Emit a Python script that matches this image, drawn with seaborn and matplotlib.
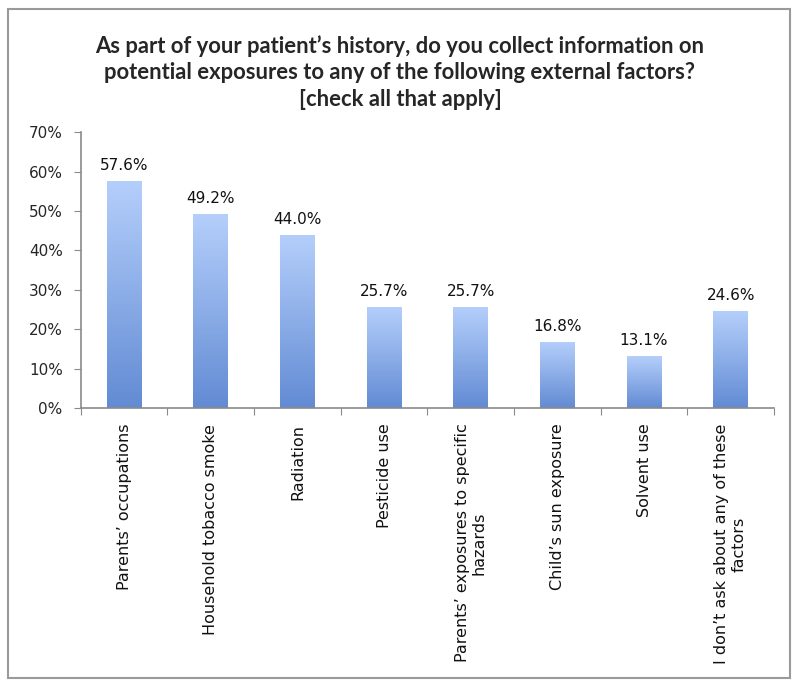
import numpy as np
import pandas as pd
import matplotlib
matplotlib.use("Agg")
import matplotlib.pyplot as plt
import seaborn as sns
from matplotlib.patches import Rectangle
from matplotlib.colors import LinearSegmentedColormap

# Data
factors = [
    "Parents\u2019 occupations",
    "Household tobacco smoke",
    "Radiation",
    "Pesticide use",
    "Parents\u2019 exposures to specific\nhazards",
    "Child\u2019s sun exposure",
    "Solvent use",
    "I don\u2019t ask about any of these\nfactors",
]
percent = [57.6, 49.2, 44.0, 25.7, 25.7, 16.8, 13.1, 24.6]
yticks = [0, 10, 20, 30, 40, 50, 60, 70]

df = pd.DataFrame({"factor": factors, "percent": percent})

sns.set_style("white")
plt.rcParams["font.family"] = ["DejaVu Sans"]

fig = plt.figure(figsize=(8, 6.88), dpi=100)
ax = fig.add_axes([0.101, 0.407, 0.8665, 0.401])

sns.barplot(data=df, x="factor", y="percent", color="#7aa3e3", width=0.4,
            ax=ax, saturation=1)

# vertical gradient fill on each bar
cmap = LinearSegmentedColormap.from_list("bar", ["#628bd4", "#b5cffb"])
grad = np.linspace(0, 1, 256).reshape(-1, 1)
for p in ax.patches:
    x0, y0 = p.get_x(), p.get_y()
    w, h = p.get_width(), p.get_height()
    im = ax.imshow(grad, cmap=cmap, origin="lower", aspect="auto",
                   extent=[x0, x0 + w, y0, y0 + h], zorder=p.get_zorder() + 0.1)
    im.set_clip_path(p)
    ax.text(x0 + w / 2, h + 2.0, f"{h:.1f}%", ha="center", va="bottom",
            fontsize=11, color="#111111")

ax.set_xlim(-0.5, len(factors) - 0.5)
ax.set_ylim(0, 70)
ax.set_yticks(yticks)
ax.set_yticklabels([f"{t}%" for t in yticks], fontsize=11)

# category boundary ticks on x axis
ax.set_xticks(np.arange(-0.5, len(factors) + 0.5, 1))
ax.set_xticklabels([])
ax.tick_params(axis="x", length=5, color="#8a8a8a", direction="out", bottom=True)
ax.tick_params(axis="y", length=5, color="#8a8a8a", direction="out", left=True,
               pad=8)
for i, lab in enumerate(factors):
    ax.text(i, -4.0, lab, rotation=90, ha="center", va="top",
            multialignment="center", fontsize=11.5, color="#111111")

for s in ["top", "right"]:
    ax.spines[s].set_visible(False)
for s in ["left", "bottom"]:
    ax.spines[s].set_color("#8a8a8a")
    ax.spines[s].set_linewidth(1.2)
ax.set_xlabel("")
ax.set_ylabel("")

fig.text(0.5, 0.949,
         "As part of your patient\u2019s history, do you collect information on\n"
         "potential exposures to any of the following external factors?\n"
         "[check all that apply]",
         ha="center", va="top", fontsize=15.8, fontweight="bold",
         family="Lato", linespacing=1.33)

# outer frame
fig.patches.append(Rectangle((8 / 800, 1 - 678 / 688), 782 / 800, 669 / 688,
                             transform=fig.transFigure, fill=False,
                             edgecolor="#9a9a9a", linewidth=1.5))

fig.savefig("out.png", dpi=100)
